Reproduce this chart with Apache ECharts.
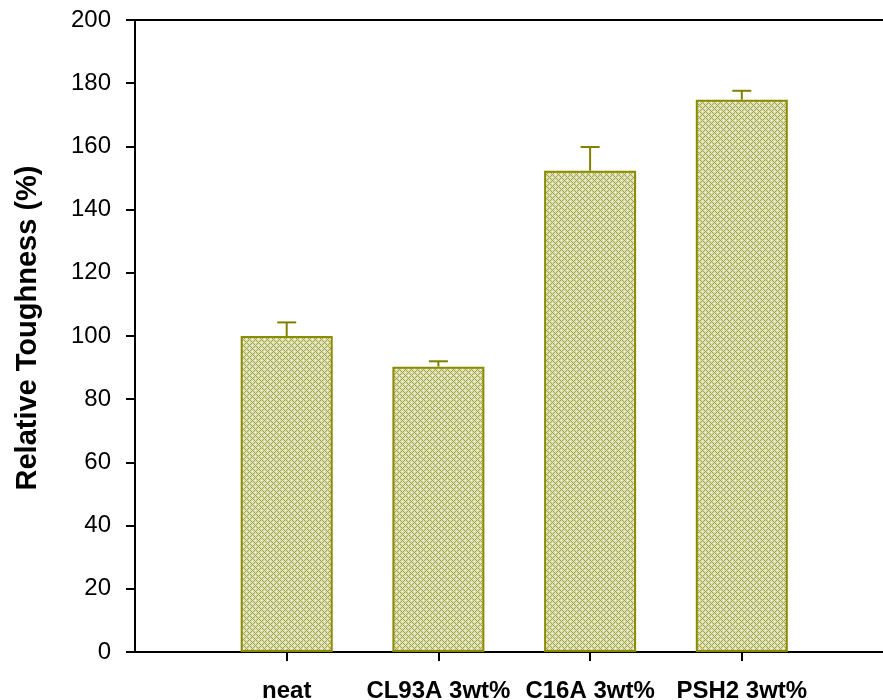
<!DOCTYPE html>
<html>
<head>
<meta charset="utf-8">
<script src="https://cdn.jsdelivr.net/npm/echarts@6/dist/echarts.min.js"></script>
<style>
  html, body { margin: 0; padding: 0; background: #fff; }
  #chart { width: 883px; height: 700px; }
</style>
</head>
<body>
<div id="chart"></div>
<script>
// Relative toughness of the neat resin and the 3 wt% nanocomposites
const categories = ['neat', 'CL93A 3wt%', 'C16A 3wt%', 'PSH2 3wt%'];
const toughness = [100, 90.3, 152.3, 174.8];
const errorUpper = [104.3, 92.0, 159.8, 177.6];
const yTicks = [0, 20, 40, 60, 80, 100, 120, 140, 160, 180, 200];

// Empty slots either side leave the open space before the first bar and after the last
const axisData = [''].concat(categories, ['']);
const barData = [null].concat(toughness, [null]);
const errData = categories.map((c, i) => [i + 1, toughness[i], errorUpper[i]]);

// Olive cross-hatch fill for the bars
function hatch() {
  const c = document.createElement('canvas');
  c.width = 6; c.height = 6;
  const g = c.getContext('2d');
  g.fillStyle = '#dcdfb2';
  g.fillRect(0, 0, 6, 6);
  for (let y = 0; y < 6; y++) {
    for (let x = 0; x < 6; x++) {
      if ((x + y) % 6 === 0 || (x - y + 6) % 6 === 0) {
        g.fillStyle = '#a2a448';
        g.fillRect(x, y, 1, 1);
      } else if ((x + y) % 6 === 3 && (x - y + 6) % 6 === 3) {
        g.fillStyle = '#ffffff';
        g.fillRect(x, y, 1, 1);
      }
    }
  }
  return c;
}

const chart = echarts.init(document.getElementById('chart'));
const font = '"Liberation Sans", Arial, sans-serif';

chart.setOption({
  animation: false,
  backgroundColor: '#ffffff',
  grid: {
    left: 135, right: -10.5, top: 20, bottom: 48,
    outerBoundsMode: 'none',
    containLabel: false,
    show: true, borderColor: '#000', borderWidth: 2, backgroundColor: 'transparent'
  },
  xAxis: {
    type: 'category',
    data: axisData,
    boundaryGap: false,
    axisLine: { lineStyle: { color: '#000', width: 2 } },
    axisTick: {
      length: 9, inside: false,
      lineStyle: { color: '#000', width: 2 },
      interval: (i) => i >= 1 && i <= categories.length
    },
    axisLabel: {
      interval: 0, margin: 27,
      color: '#000', fontFamily: font, fontSize: 24, fontWeight: 'bold'
    },
    splitLine: { show: false }
  },
  yAxis: {
    type: 'value',
    min: yTicks[0], max: yTicks[yTicks.length - 1], interval: 20,
    axisLine: { show: true, lineStyle: { color: '#000', width: 2 } },
    axisTick: { show: true, length: 9, lineStyle: { color: '#000', width: 2 } },
    axisLabel: { margin: 24, color: '#000', fontFamily: font, fontSize: 24 },
    splitLine: { show: false }
  },
  graphic: [{
    type: 'text',
    x: 28, y: 328,
    rotation: Math.PI / 2,
    style: {
      text: 'Relative Toughness (%)',
      fontFamily: font, fontSize: 29, fontWeight: 'bold',
      fill: '#000', align: 'center', verticalAlign: 'middle'
    }
  }],
  series: [
    {
      type: 'bar',
      data: barData,
      barWidth: 92,
      itemStyle: {
        color: { image: hatch(), repeat: 'repeat' },
        borderColor: '#8b8b00', borderWidth: 2
      },
      z: 2
    },
    {
      type: 'custom',
      data: errData,
      z: 3,
      renderItem: function (params, api) {
        const top = api.coord([api.value(0), api.value(2)]);
        const base = api.coord([api.value(0), api.value(1)]);
        const half = 9.5;
        const st = { stroke: '#808000', lineWidth: 2 };
        return {
          type: 'group',
          children: [
            { type: 'line', shape: { x1: base[0], y1: base[1], x2: top[0], y2: top[1] }, style: st },
            { type: 'line', shape: { x1: top[0] - half, y1: top[1], x2: top[0] + half, y2: top[1] }, style: st }
          ]
        };
      }
    }
  ]
});
</script>
</body>
</html>
